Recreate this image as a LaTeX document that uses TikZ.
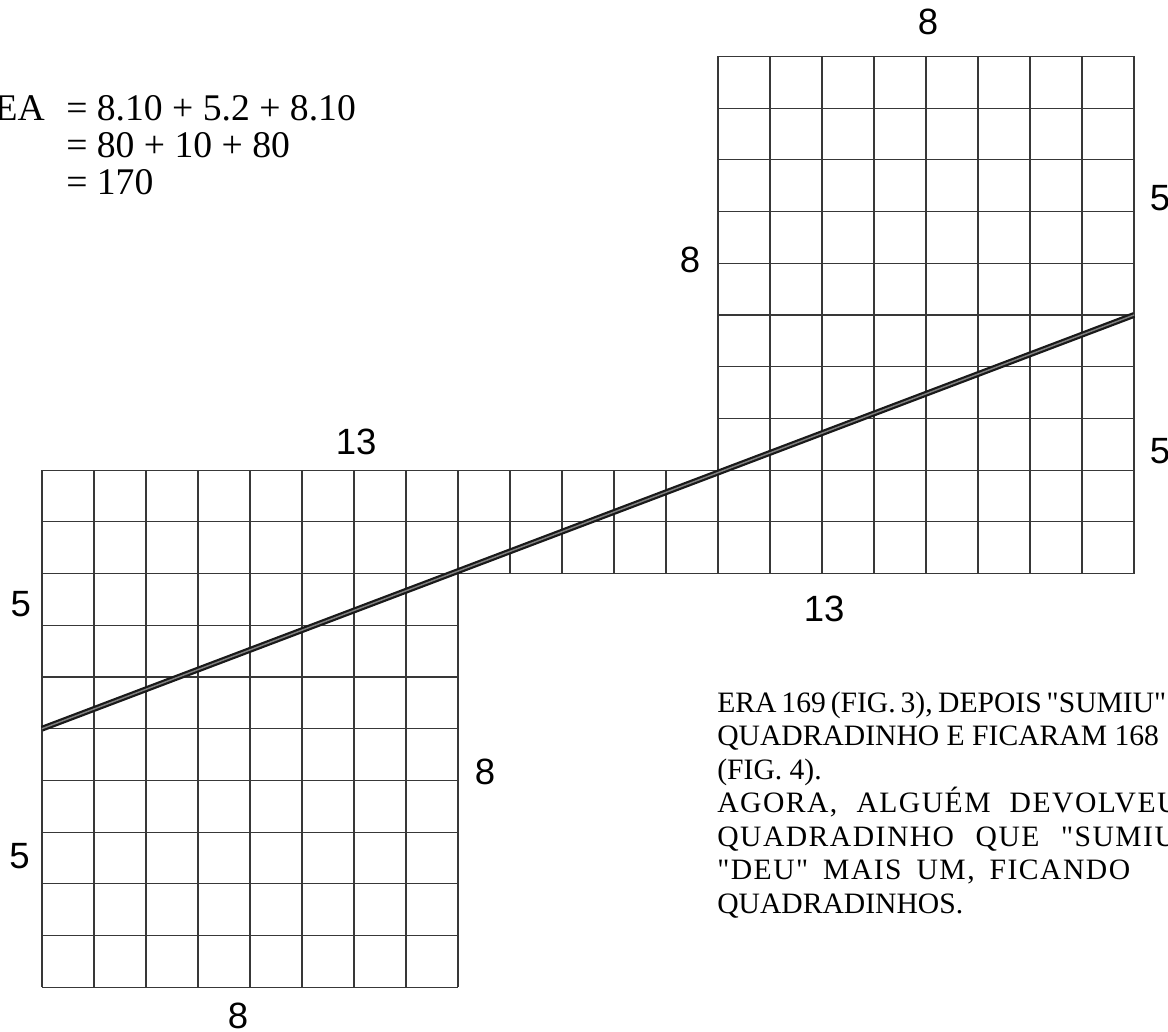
\documentclass[tikz,border=0pt]{standalone}
\usepackage{fontspec}
\setmainfont{Liberation Serif}[Ligatures=TeXOff]
\newfontfamily\labfont{Liberation Sans}
\begin{document}
\begin{tikzpicture}[x = 1cm, y = 0.9945cm,
    gridline/.style = {black!78, line width = 0.6pt},
    sidelab/.style = {font = \labfont\fontsize{20}{24}\selectfont, inner sep = 0pt},
    eqline/.style = {font = \fontsize{20.6}{21}\selectfont, inner sep = 0pt, anchor = base west},
    noteline/.style = {font = \fontsize{16.2}{18}\selectfont, inner sep = 0pt, anchor = base west},
    spread/.style = {font = \fontsize{16.2}{18}\selectfont\addfontfeature{LetterSpace = 5}}]
    \useasboundingbox (-0.808, -0.851) rectangle (21.654, 19.091);
    % left block, 8 by 10
    \foreach \x in {0,...,8}{
        \draw[gridline] (\x, 0) -- (\x, 10);
    }
    \foreach \y in {0,...,10}{
        \draw[gridline] (0, \y) -- (8, \y);
    }
    % middle strip, 5 by 2
    \foreach \x in {9,...,12}{
        \draw[gridline] (\x, 8) -- (\x, 10);
    }
    \foreach \y in {8, 9, 10}{
        \draw[gridline] (8, \y) -- (13, \y);
    }
    % right block, 8 by 10
    \foreach \x in {13,...,21}{
        \draw[gridline] (\x, 8) -- (\x, 18);
    }
    \foreach \y in {8,...,18}{
        \draw[gridline] (13, \y) -- (21, \y);
    }
    % the cut
    \coordinate (cutstart) at (0, 5);
    \coordinate (cutend) at (21, 13);
    \draw[black!90, line width = 1.2pt, double = black!50, double distance = 0.8pt] (cutstart) -- (cutend);
    % side lengths
    \node[sidelab] (topright) at (17.04, 18.67) {8};
    \node[sidelab] (rightup) at (21.50, 15.26) {5};
    \node[sidelab] (rightdown) at (21.50, 10.37) {5};
    \node[sidelab] (rightleft) at (12.46, 14.06) {8};
    \node[sidelab] (toplong) at (6.04, 10.54) {13};
    \node[sidelab] (bottomlong) at (15.04, 7.31) {13};
    \node[sidelab] (leftup) at (-0.41, 7.41) {5};
    \node[sidelab] (leftdown) at (-0.43, 2.53) {5};
    \node[sidelab] (leftright) at (8.52, 4.16) {8};
    \node[sidelab] (bottomleft) at (3.77, -0.55) {8};
    % area sum
    \node[eqline, anchor = base east] (area) at (0.06, 16.77) {EA};
    \node[eqline] (suma) at (0.46, 16.77) {= 8.10 + 5.2 + 8.10};
    \node[eqline] (sumb) at ([yshift = -0.712cm]suma.base west) {= 80 + 10 + 80};
    \node[eqline] (sumc) at ([yshift = -0.712cm]sumb.base west) {= 170};
    % note
    \node[noteline] (notea) at (12.98, 5.32) {\makebox[8.6cm][s]{ERA 169 (FIG. 3), DEPOIS "SUMIU"}};
    \node[noteline] (noteb) at ([yshift = -0.644cm]notea.base west) {QUADRADINHO E FICARAM 168};
    \node[noteline] (notec) at ([yshift = -0.644cm]noteb.base west) {(FIG. 4).};
    \node[noteline, spread] (noted) at ([yshift = -0.644cm]notec.base west) {\makebox[8.87cm][s]{AGORA, ALGUÉM DEVOLVEU}};
    \node[noteline, spread] (notee) at ([yshift = -0.644cm]noted.base west) {\makebox[8.82cm][s]{QUADRADINHO QUE "SUMIU}};
    \node[noteline, spread] (notef) at ([yshift = -0.644cm]notee.base west) {\makebox[7.94cm][s]{"DEU" MAIS UM, FICANDO}};
    \node[noteline] (noteg) at ([yshift = -0.644cm]notef.base west) {QUADRADINHOS.};
\end{tikzpicture}
\end{document}
